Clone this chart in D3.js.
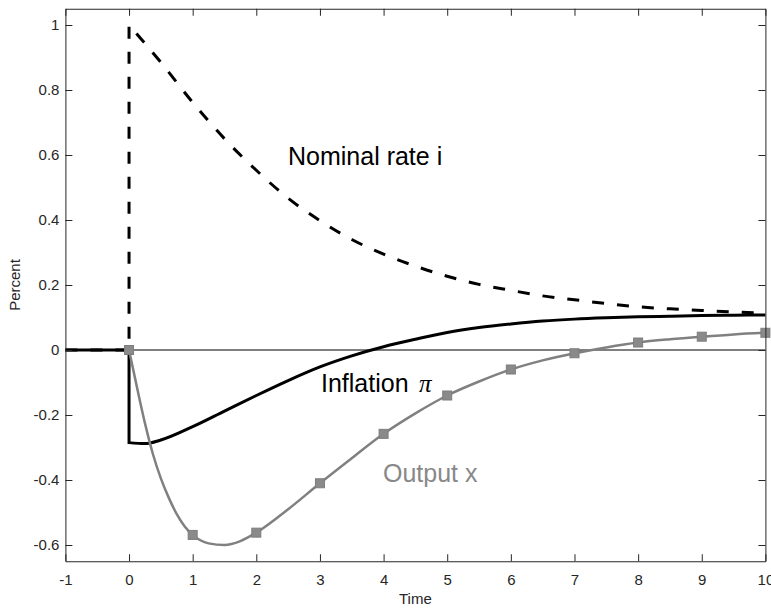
<!DOCTYPE html>
<html>
<head>
<meta charset="utf-8">
<script src="https://cdn.jsdelivr.net/npm/d3@7"></script>
<style>
  html, body { margin: 0; padding: 0; background: #fff; }
  svg { display: block; font-family: "Liberation Sans", Arial, Helvetica, sans-serif; }
</style>
</head>
<body>
<svg id="chart" width="771" height="610"></svg>
<script>
// ---- data ----
const preTime = [-1, 0];
const preValues = [0, 0];

const nominalTime = [0, 0.5, 1, 1.5, 2, 2.5, 3, 3.5, 4, 4.5, 5, 5.5, 6, 6.5, 7, 7.5, 8, 8.5, 9, 9.5, 10];
const nominalValues = [1.0, 0.885, 0.762, 0.65, 0.553, 0.467, 0.398, 0.34, 0.295, 0.258, 0.227, 0.202, 0.1835, 0.1665, 0.1545, 0.143, 0.133, 0.1266, 0.1217, 0.117, 0.114];

const inflationTime = [0, 0.25, 0.5, 1, 1.5, 2, 2.5, 3, 3.5, 4, 4.5, 5, 5.5, 6, 6.5, 7, 7.5, 8, 8.5, 9, 9.5, 10];
const inflationValues = [-0.285, -0.288, -0.277, -0.236, -0.188, -0.14, -0.094, -0.052, -0.018, 0.01, 0.033, 0.054, 0.069, 0.08, 0.089, 0.095, 0.099, 0.102, 0.104, 0.106, 0.107, 0.108];

const outputTime = [0, 0.125, 0.25, 0.375, 0.5, 0.625, 0.75, 0.875, 1, 1.25, 1.5, 1.75, 2, 2.5, 3, 3.5, 4, 4.5, 5, 5.5, 6, 6.5, 7, 7.5, 8, 8.5, 9, 9.5, 10];
const outputValues = [0, -0.115, -0.225, -0.32, -0.395, -0.455, -0.505, -0.543, -0.569, -0.595, -0.6, -0.588, -0.562, -0.49, -0.41, -0.333, -0.258, -0.195, -0.14, -0.097, -0.06, -0.032, -0.01, 0.008, 0.023, 0.033, 0.041, 0.048, 0.053];

const xTicks = [-1, 0, 1, 2, 3, 4, 5, 6, 7, 8, 9, 10];
const xTickLabels = ["-1", "0", "1", "2", "3", "4", "5", "6", "7", "8", "9", "10"];
const yTicks = [-0.6, -0.4, -0.2, 0, 0.2, 0.4, 0.6, 0.8, 1];
const yTickLabels = ["-0.6", "-0.4", "-0.2", "0", "0.2", "0.4", "0.6", "0.8", "1"];

const xLabel = "Time";
const yLabel = "Percent";

// ---- layout ----
const svg = d3.select("#chart");
const plotLeft = 65.4, plotRight = 765.4, plotTop = 8.75, plotBottom = 561.25;
const x = d3.scaleLinear().domain([-1, 10]).range([plotLeft, plotRight]);
const y = d3.scaleLinear().domain([-0.65, 1.05]).range([plotBottom, plotTop]);
const axisColor = "#262626";
const tickLen = 7;

const zip = (ts, vs) => ts.map((t, i) => [t, vs[i]]);
const linLine = d3.line().x(d => x(d[0])).y(d => y(d[1])).curve(d3.curveLinear);
const smoothLine = d3.line().x(d => x(d[0])).y(d => y(d[1])).curve(d3.curveMonotoneX);
// pre-shock flat segment + jump (linear) + smooth response
function jumpPath(ts, vs) {
  const pre = zip(preTime, preValues);
  const post = zip(ts, vs);
  return linLine(pre.concat([post[0]])) + smoothLine(post).replace(/^M/, "L");
}

// zero line
svg.append("line")
  .attr("x1", x(-1)).attr("x2", x(10))
  .attr("y1", y(0)).attr("y2", y(0))
  .attr("stroke", "#000").attr("stroke-width", 1);

// nominal rate (dashed)
svg.append("path")
  .attr("d", jumpPath(nominalTime, nominalValues))
  .attr("fill", "none").attr("stroke", "#000")
  .attr("stroke-width", 3).attr("stroke-dasharray", "12,13");

// inflation (solid black)
svg.append("path")
  .attr("d", jumpPath(inflationTime, inflationValues))
  .attr("fill", "none").attr("stroke", "#000")
  .attr("stroke-width", 3).attr("stroke-linejoin", "miter");

// output (gray)
svg.append("path")
  .attr("d", smoothLine(zip(outputTime, outputValues)))
  .attr("fill", "none").attr("stroke", "#808080")
  .attr("stroke-width", 2.5);

const markers = zip(outputTime, outputValues).filter(d => Number.isInteger(d[0]));
svg.selectAll("rect.mk").data(markers).enter().append("rect")
  .attr("class", "mk")
  .attr("x", d => x(d[0]) - 4.5).attr("y", d => y(d[1]) - 4.5)
  .attr("width", 9).attr("height", 9)
  .attr("fill", "#8a8a8a").attr("stroke", "#7d7d7d").attr("stroke-width", 1);

// axes
function styleAxis(g) {
  g.selectAll("path.domain").attr("stroke", axisColor).attr("stroke-width", 1);
  g.selectAll(".tick line").attr("stroke", axisColor).attr("stroke-width", 1);
  g.selectAll(".tick text").attr("fill", axisColor).style("font-size", "15px")
    .style("font-family", "'Liberation Sans', Arial, Helvetica, sans-serif");
}
const gx = svg.append("g").attr("transform", `translate(0,${plotBottom})`)
  .call(d3.axisBottom(x).tickValues(xTicks).tickFormat((d, i) => xTickLabels[i])
    .tickSizeInner(-tickLen).tickSizeOuter(0).tickPadding(13));
styleAxis(gx);
const gxt = svg.append("g").attr("transform", `translate(0,${plotTop})`)
  .call(d3.axisTop(x).tickValues(xTicks).tickFormat("")
    .tickSizeInner(-tickLen).tickSizeOuter(0));
styleAxis(gxt);
const gy = svg.append("g").attr("transform", `translate(${plotLeft},0)`)
  .call(d3.axisLeft(y).tickValues(yTicks).tickFormat((d, i) => yTickLabels[i])
    .tickSizeInner(-tickLen).tickSizeOuter(0).tickPadding(6));
styleAxis(gy);
const gyr = svg.append("g").attr("transform", `translate(${plotRight},0)`)
  .call(d3.axisRight(y).tickValues(yTicks).tickFormat("")
    .tickSizeInner(-tickLen).tickSizeOuter(0));
styleAxis(gyr);

// axis labels
svg.append("text").attr("x", (plotLeft + plotRight) / 2).attr("y", 604)
  .attr("text-anchor", "middle").attr("fill", axisColor)
  .style("font-size", "15px").text(xLabel);
svg.append("text").attr("transform", `translate(20,${(plotTop + plotBottom) / 2}) rotate(-90)`)
  .attr("text-anchor", "middle").attr("fill", axisColor)
  .style("font-size", "15px").text(yLabel);

// annotations
svg.append("text").attr("x", 288).attr("y", 165)
  .attr("fill", "#000").style("font-size", "25px").text("Nominal rate i");
svg.append("text").attr("x", 321).attr("y", 392)
  .attr("fill", "#000").style("font-size", "25px").text("Inflation");
svg.append("text").attr("x", 419).attr("y", 392)
  .attr("fill", "#000").style("font-size", "25px")
  .style("font-family", "'Liberation Serif', 'Times New Roman', serif")
  .style("font-style", "italic").text("π");
svg.append("text").attr("x", 383).attr("y", 482)
  .attr("fill", "#888888").style("font-size", "25px").text("Output x");
</script>
</body>
</html>
